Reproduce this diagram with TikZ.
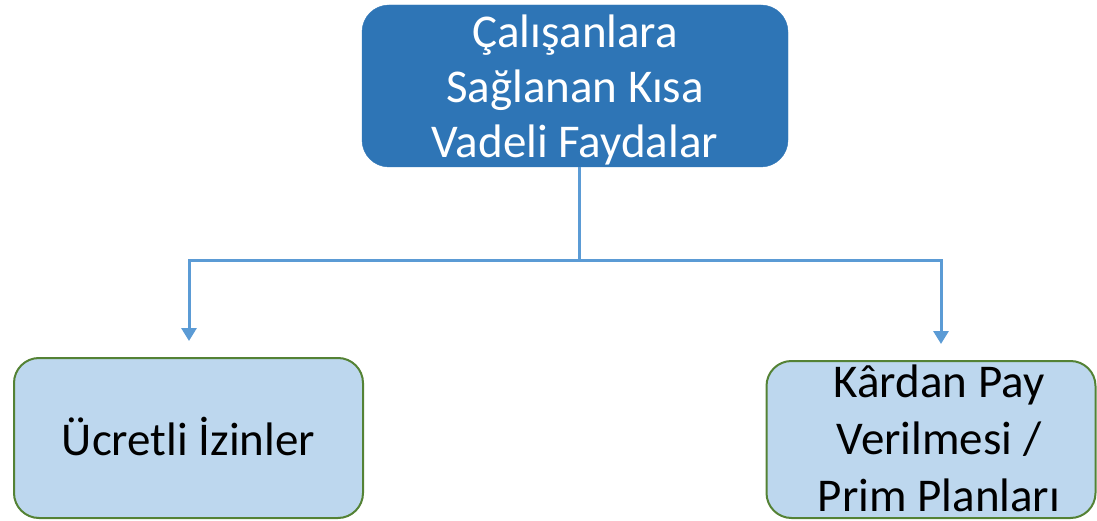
\documentclass[tikz,border=0pt]{standalone}
\usepackage{fontspec}
\setmainfont{Carlito}
\usetikzlibrary{arrows.meta}
\definecolor{topblue}{HTML}{2E75B6}
\definecolor{lightblue}{HTML}{BDD7EE}
\definecolor{boxgreen}{HTML}{548235}
\definecolor{connblue}{HTML}{5B9BD5}
\tikzset{
  topbox/.style={fill=topblue, draw=topblue, rounded corners=27pt,
    minimum width=426pt, minimum height=162pt, inner sep=0pt},
  toptext/.style={align=center, text=white, inner sep=0pt,
    font=\fontsize{47pt}{55pt}\selectfont},
  leafbox/.style={fill=lightblue, draw=boxgreen, line width=2pt, rounded corners=25pt,
    inner sep=0pt},
  leaftext/.style={align=center, text=black, inner sep=0pt,
    font=\fontsize{47pt}{57pt}\selectfont},
  conn/.style={draw=connblue, line width=3pt, -{Triangle[width=15pt,length=13pt]},
    shorten >=16pt}
}
\begin{document}
\begin{tikzpicture}[x=1pt,y=-1pt]
\useasboundingbox (0,0) rectangle (1097,521);
\node[topbox] (top) at (575,86) {};
\node[toptext] (ttext) at (575,90) {Çalışanlara\\Sağlanan Kısa\\Vadeli Faydalar};
\node[leafbox, minimum width=349pt, minimum height=160pt] (lbox) at (188.5,438) {};
\node[leaftext] (ltext) at (188.5,436) {Ücretli İzinler};
\node[leafbox, minimum width=329pt, minimum height=157pt] (rbox) at (931,439.5) {};
\node[leaftext] (rtext) at (939,438) {Kârdan Pay\\Verilmesi /\\Prim Planları};
\coordinate (j) at (579,261);
\draw[conn] ([xshift=4pt]top.south) -- (j) -| ([xshift=0.5pt]lbox.north);
\draw[conn] (j) -| ([xshift=10pt]rbox.north);
\end{tikzpicture}
\end{document}
